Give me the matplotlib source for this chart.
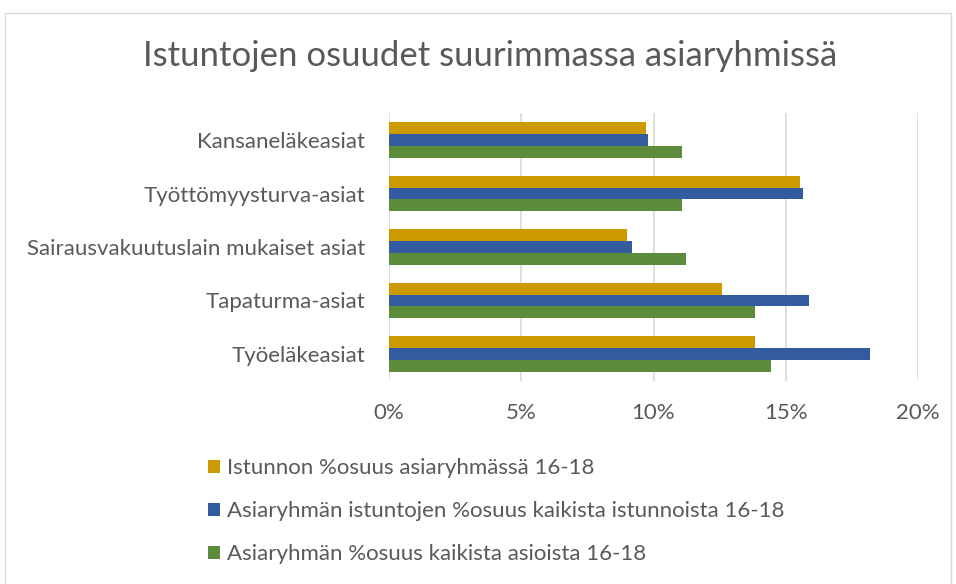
import matplotlib
matplotlib.use("Agg")
import matplotlib.pyplot as plt
from matplotlib.patches import Rectangle
from matplotlib.ticker import PercentFormatter
import numpy as np

categories = ["Kansaneläkeasiat", "Työttömyysturva-asiat", "Sairausvakuutuslain mukaiset asiat",
              "Tapaturma-asiat", "Työeläkeasiat"]
series_names = ["Istunnon %osuus asiaryhmässä 16-18",
                "Asiaryhmän istuntojen %osuus kaikista istunnoista 16-18",
                "Asiaryhmän %osuus kaikista asioista 16-18"]
istunnon_osuus = [9.73, 15.53, 8.98, 12.58, 13.84]
istuntojen_osuus = [9.80, 15.64, 9.18, 15.87, 18.20]
asioiden_osuus = [11.06, 11.06, 11.24, 13.84, 14.44]
x_ticks = [0, 5, 10, 15, 20]

colors = ["#CC9900", "#335CA0", "#5B8B3B"]
text_color = "#595959"
plt.rcParams['font.family'] = ['Lato', 'DejaVu Sans']

W, H = 956, 584
fig = plt.figure(figsize=(W / 100, H / 100), dpi=100)

# chart border
fig.patches.append(Rectangle((5 / W, -0.05), (951 - 5) / W, (H - 13) / H + 0.05,
                             transform=fig.transFigure, fill=False,
                             edgecolor="#D9D9D9", linewidth=1.0))

ax_left, ax_right, ax_top, ax_bottom = 389, 918, 113.25, 380.75
ax = fig.add_axes([ax_left / W, 1 - ax_bottom / H, (ax_right - ax_left) / W,
                   (ax_bottom - ax_top) / H])

y = np.arange(len(categories))
h = 0.222
for i, (vals, c, name) in enumerate(zip([istunnon_osuus, istuntojen_osuus, asioiden_osuus],
                                        colors, series_names)):
    ax.barh(y + (i - 1) * h, vals, height=h, color=c, label=name, zorder=3)

ax.set_ylim(len(categories) - 0.5, -0.5)
ax.set_xlim(0, 20)
ax.set_xticks(x_ticks)
ax.xaxis.set_major_formatter(PercentFormatter(decimals=0))
ax.set_yticks(y)
ax.set_yticklabels(categories)
ax.grid(axis="x", color="#D9D9D9", linewidth=1.2, zorder=0)
for s in ax.spines.values():
    s.set_visible(False)
ax.tick_params(axis="x", length=0, pad=16, labelsize=16, labelcolor=text_color)
ax.tick_params(axis="y", length=0, pad=17, labelsize=16, labelcolor=text_color)

fig.text(490 / W, 1 - 56 / H, "Istuntojen osuudet suurimmassa asiaryhmissä",
         ha="center", va="center", fontsize=25, color=text_color)

handles, labels = ax.get_legend_handles_labels()
leg = fig.legend(handles, labels, loc="upper left",
                 bbox_to_anchor=(208 / W, 1 - 458 / H), frameon=False,
                 fontsize=16, labelcolor=text_color, handlelength=0.52,
                 handleheight=0.52, handletextpad=0.33, labelspacing=1.04,
                 borderpad=0, borderaxespad=0)

fig.savefig("out.png", dpi=100)
